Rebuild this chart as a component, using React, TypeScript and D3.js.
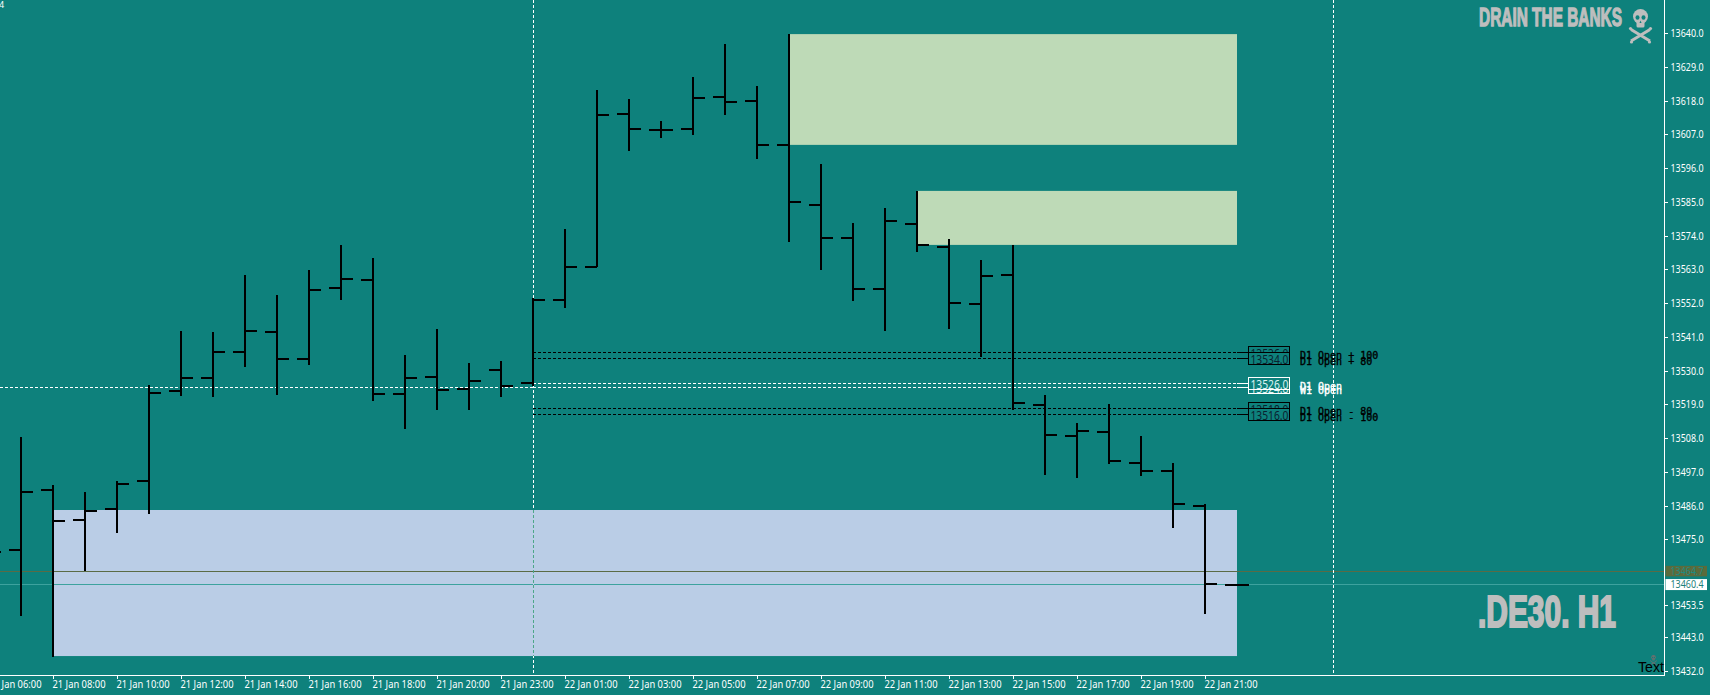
import React from "react";
import * as d3 from "d3";

const barTimes = [
  "21 Jan 06:00","21 Jan 07:00","21 Jan 08:00","21 Jan 09:00","21 Jan 10:00","21 Jan 11:00","21 Jan 12:00","21 Jan 13:00",
  "21 Jan 14:00","21 Jan 15:00","21 Jan 16:00","21 Jan 17:00","21 Jan 18:00","21 Jan 19:00","21 Jan 20:00","21 Jan 22:00",
  "21 Jan 23:00","22 Jan 00:00","22 Jan 01:00","22 Jan 02:00","22 Jan 03:00","22 Jan 04:00","22 Jan 05:00","22 Jan 06:00",
  "22 Jan 07:00","22 Jan 08:00","22 Jan 09:00","22 Jan 10:00","22 Jan 11:00","22 Jan 12:00","22 Jan 13:00","22 Jan 14:00",
  "22 Jan 15:00","22 Jan 16:00","22 Jan 17:00","22 Jan 18:00","22 Jan 19:00","22 Jan 20:00","22 Jan 21:00","22 Jan 22:00",
];
const opens = [13475,13471.7,13491.2,13481.4,13485.1,13494.3,13523.6,13527.8,13536.2,13542.7,13533.9,13557.1,13559.7,13522.6,13528.1,13524.2,13530.4,13526.2,13553.1,13563.9,13613.8,13608.5,13608.9,13619.3,13618,13603.7,13584.1,13573.4,13556.7,13577.9,13570.4,13551.8,13561.3,13518.9,13508.8,13510.1,13500,13497.4,13486,13460.3];
const highs = [13490,13508.5,13492.8,13490.5,13494.1,13525.3,13543,13542.7,13561.3,13554.8,13562.9,13571.1,13566.8,13535.2,13543.7,13532.6,13533.3,13553.8,13576.3,13621.6,13618.7,13611.5,13625.8,13636.6,13622.9,13639.8,13597.5,13578.2,13583.1,13588.7,13573,13566.2,13571.1,13522.2,13513.1,13519.2,13508.8,13500,13486.7,13460.7];
const lows = [13460,13450.3,13436.9,13464.8,13477.3,13483.5,13522,13521.6,13531.4,13522.3,13532.1,13553.2,13520.3,13511.2,13517.4,13517.4,13521.6,13525.1,13550.6,13563.9,13601.8,13606,13607,13613.5,13599.2,13572.1,13563,13552.9,13543.1,13568.9,13543.8,13534.7,13517.4,13496.1,13495.2,13499.8,13495.9,13478.9,13450.9,13460];
const closes = [13471,13490.6,13481.1,13484.4,13493.2,13522.8,13527.8,13536.2,13543,13533.9,13556.4,13560,13522.6,13527.8,13523.9,13526.8,13525.2,13553.1,13563.9,13613.4,13608.9,13608.5,13619,13617.7,13603.7,13585.1,13573.4,13556.7,13578.9,13571.1,13552.2,13561,13519.6,13509.1,13510.4,13500.7,13497.4,13486.7,13460.6,13460.3];

const priceTicks = [13640,13629,13618,13607,13596,13585,13574,13563,13552,13541,13530,13519,13508,13497,13486,13475,13453.5,13443,13432];
const levelPrices = [13536,13534,13524.8,13526,13518,13516];
const levelNames = ["D1 Open + 100","D1 Open + 80","W1 Open","D1 Open","D1 Open - 80","D1 Open - 100"];
const levelTones = ["dark","dark","light","light","dark","dark"];
const zoneStart = [25,29,2];
const zoneHigh = [13639.8,13588.7,13484.7];
const zoneLow = [13603.7,13571.1,13437.1];
const zoneFill = ["#BEDAB7","#BEDAB7","#BACDE6"];
const askPrice = 13464.7;
const bidPrice = 13460.4;
const crossBar = 17;
const crossPrice = 13524.8;

const BG = "#0E817C";
const W = 1710, H = 695;
const axisX = 1664.5, axisY = 675.5;

const x = d3.scaleLinear().domain([0, 39]).range([-11, 1237]);
const y = d3.scaleLinear().domain([13432, 13640]).range([671.7, 33.5]);
const axisFont = "'Noto Sans', sans-serif";
const rowY = (p: number) => Math.floor(y(p) + 0.2) + 0.5;

function Skull({ cx, top, s, fill }: { cx: number; top: number; s: number; fill: string }) {
  return (
    <g transform={`translate(${cx},${top}) scale(${s})`}>
      <ellipse cx={0} cy={7.5} rx={7.5} ry={7.5} fill={fill} />
      <rect x={-4} y={12} width={8} height={6.5} rx={1.5} fill={fill} />
      <ellipse cx={-3} cy={8.5} rx={2} ry={2.3} fill={BG} />
      <ellipse cx={3} cy={8.5} rx={2} ry={2.3} fill={BG} />
      <path d="M0 11.5 L1 14 L-1 14 Z" fill={BG} />
      <path d="M-9.5 20.5 L9.5 32 M9.5 20.5 L-9.5 32" stroke={fill} strokeWidth={3} fill="none" />
      <circle cx={-10} cy={19.5} r={1.6} fill={fill} />
      <circle cx={-9} cy={33} r={1.6} fill={fill} />
      <circle cx={10} cy={19.5} r={1.6} fill={fill} />
      <circle cx={9} cy={33} r={1.6} fill={fill} />
    </g>
  );
}

export default function App() {
  const last = barTimes.length - 1;
  return (
    <svg width={W} height={H} viewBox={`0 0 ${W} ${H}`}
      style={{ position: "fixed", left: 0, top: 0, display: "block", background: BG }}>
      <rect x={0} y={0} width={W} height={H} fill={BG} />
      <text x={-1} y={8} fontFamily={axisFont} fontSize={9} fill="#fff">4</text>

      {zoneHigh.map((h, i) => (
        <rect key={i} x={x(zoneStart[i])} y={y(h)} width={x(last) - x(zoneStart[i])} height={y(zoneLow[i]) - y(h)} fill={zoneFill[i]} />
      ))}

      <line x1={0} x2={axisX} y1={y(askPrice)} y2={y(askPrice)} stroke="#5A6B45" shapeRendering="crispEdges" />
      <line x1={0} x2={axisX} y1={y(bidPrice)} y2={y(bidPrice)} stroke="#3DA29E" shapeRendering="crispEdges" />

      <line x1={x(crossBar) + 0.5} x2={x(crossBar) + 0.5} y1={0} y2={672.5} stroke="#fff" strokeDasharray="3 2" shapeRendering="crispEdges" />
      <line x1={x(crossBar) + 0.5} x2={x(crossBar) + 0.5} y1={y(zoneHigh[2])} y2={y(zoneLow[2])} stroke={zoneFill[2]} strokeWidth={1.5} shapeRendering="crispEdges" />
      <line x1={x(crossBar) + 0.5} x2={x(crossBar) + 0.5} y1={y(zoneHigh[2])} y2={y(zoneLow[2])} stroke="#4CA688" strokeDasharray="3 2" shapeRendering="crispEdges" />
      <line x1={1333.5} x2={1333.5} y1={0} y2={672.5} stroke="#fff" strokeDasharray="3 2" shapeRendering="crispEdges" />
      <line x1={0} x2={x(crossBar)} y1={rowY(crossPrice)} y2={rowY(crossPrice)} stroke="#fff" strokeDasharray="3 2" shapeRendering="crispEdges" />

      {levelPrices.map((p, i) => {
        const c = levelTones[i] === "light" ? "#fff" : "#000";
        return (
          <g key={i}>
            <line x1={x(crossBar)} x2={x(last)} y1={rowY(p)} y2={rowY(p)} stroke={c} strokeDasharray="3 2" shapeRendering="crispEdges" />
            <line x1={x(last)} x2={1248} y1={rowY(p)} y2={rowY(p)} stroke={c} shapeRendering="crispEdges" />
            <text x={1300} y={rowY(p) + 6.5} fontFamily="'DejaVu Sans Mono', monospace" fontSize={10} stroke={c} strokeWidth={0.35} fill={c}>{levelNames[i]}</text>
          </g>
        );
      })}
      {levelPrices.map((p, i) => {
        const c = levelTones[i] === "light" ? "#fff" : "#000";
        return (
          <g key={i}>
            <rect x={1248.5} y={rowY(p) - 6} width={41} height={12} fill={BG} stroke={c} shapeRendering="crispEdges" />
            <text x={1250.5} y={rowY(p) + 5} fontFamily={axisFont} fontSize={12.5} textLength={38} lengthAdjust="spacingAndGlyphs" fill={levelTones[i] === "light" ? "#DDF3F3" : "#0A2230"}>{p.toFixed(1)}</text>
          </g>
        );
      })}

      {barTimes.map((t, i) => (
        <g key={t} stroke="#000" strokeWidth={2} shapeRendering="crispEdges">
          <line x1={x(i)} x2={x(i)} y1={y(highs[i])} y2={y(lows[i])} />
          <line x1={x(i) - 12} x2={x(i)} y1={y(opens[i])} y2={y(opens[i])} />
          <line x1={x(i)} x2={x(i) + 12} y1={y(closes[i])} y2={y(closes[i])} />
        </g>
      ))}

      <line x1={0} x2={axisX} y1={axisY} y2={axisY} stroke="#fff" shapeRendering="crispEdges" />
      <line x1={axisX} x2={axisX} y1={0} y2={axisY} stroke="#fff" shapeRendering="crispEdges" />
      {barTimes.map((t, i) => i % 2 === 0 ? (
        <g key={t}>
          <line x1={x(i) + 0.5} x2={x(i) + 0.5} y1={axisY} y2={axisY + 3} stroke="#fff" shapeRendering="crispEdges" />
          <text x={x(i) - 0.5} y={688} fontFamily={axisFont} fontSize={10} textLength={53} lengthAdjust="spacingAndGlyphs" fill="#fff">{t}</text>
        </g>
      ) : null)}
      {priceTicks.map((p) => (
        <g key={p}>
          <line x1={axisX} x2={axisX + 3} y1={y(p)} y2={y(p)} stroke="#fff" shapeRendering="crispEdges" />
          <text x={1670.5} y={y(p) + 3.5} fontFamily={axisFont} fontSize={10} textLength={33} lengthAdjust="spacingAndGlyphs" fill="#fff">{p.toFixed(1)}</text>
        </g>
      ))}

      <rect x={1665.5} y={y(askPrice) - 5.5} width={41.5} height={10.5} fill="#5B6B3C" />
      <text x={1670.5} y={y(askPrice) + 3.5} fontFamily={axisFont} fontSize={10} textLength={33} lengthAdjust="spacingAndGlyphs" fill="#1E8A82">{askPrice.toFixed(1)}</text>
      <rect x={1665.5} y={y(bidPrice) - 5.5} width={41.5} height={11} fill="#fff" />
      <text x={1670.5} y={y(bidPrice) + 3.5} fontFamily={axisFont} fontSize={10} textLength={33} lengthAdjust="spacingAndGlyphs" fill="#1E7F7A">{bidPrice.toFixed(1)}</text>

      <text x={1479} y={26} fontFamily="'Liberation Sans', sans-serif" fontWeight={700} fontSize={25} stroke="#BEBEBE" strokeWidth={1.3} textLength={143} lengthAdjust="spacingAndGlyphs" fill="#BEBEBE">DRAIN THE BANKS</text>
      <Skull cx={1640.5} top={9} s={1} fill="#BEBEBE" />
      <text x={1478} y={627} fontFamily="'Liberation Sans', sans-serif" fontWeight={700} fontSize={44} stroke="#BEBEBE" strokeWidth={2.2} textLength={138} lengthAdjust="spacingAndGlyphs" fill="#BEBEBE">.DE30. H1</text>
      <Skull cx={1653.5} top={655} s={0.3} fill="#6A6F6F" />
      <text x={1638} y={672} fontFamily="'Liberation Sans', sans-serif" fontSize={15} textLength={26} lengthAdjust="spacingAndGlyphs" fill="#000">Text</text>
    </svg>
  );
}
